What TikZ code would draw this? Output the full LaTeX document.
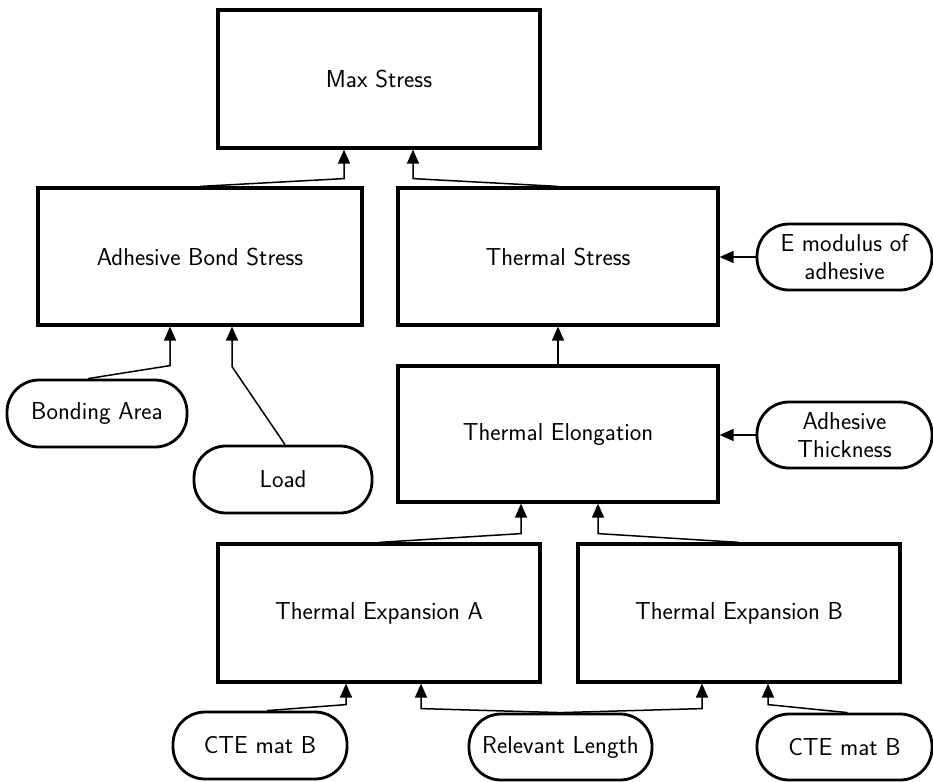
\documentclass[tikz,border=0pt]{standalone}
\usepackage{fontspec}
\usetikzlibrary{arrows.meta,calc}
\begin{document}
\begin{tikzpicture}[x=1pt,y=-1pt,
  lbl/.style={font=\sffamily\fontsize{24.5}{28}\selectfont, align=center, inner sep=0pt},
  box/.style={lbl, draw, line width=3.2pt},
  term/.style={lbl, draw, line width=2.8pt, rounded corners=32pt, minimum width=175pt, minimum height=66pt},
  conn/.style={line width=1.5pt, -{Triangle[length=14pt,width=12pt]}}]
\useasboundingbox (0,0) rectangle (933,781);
% boxes
\node[box, minimum width=322pt, minimum height=138pt] (ms)  at (379,79)    {Max Stress};
\node[box, minimum width=324pt, minimum height=137pt] (abs) at (200,256.5) {Adhesive Bond Stress};
\node[box, minimum width=320pt, minimum height=137pt] (ts)  at (558,256.5) {Thermal Stress};
\node[box, minimum width=320pt, minimum height=136pt] (te)  at (558,434)   {Thermal Elongation};
\node[box, minimum width=322pt, minimum height=138pt] (tea) at (379,613)   {Thermal Expansion A};
\node[box, minimum width=322pt, minimum height=138pt] (teb) at (739,613)   {Thermal Expansion B};
% terminals
\node[term] (em) at (844.5,257) {E modulus of\\adhesive};
\node[term] (at) at (844.5,435) {Adhesive\\Thickness};
\node[term, minimum width=180pt, minimum height=67pt] (ba) at (97,413.5) {Bonding Area};
\node[term, minimum width=178pt, minimum height=67pt] (ld) at (283,479.5) {Load};
\node[term, minimum width=174pt, minimum height=67pt] (c1) at (260,745.5) {CTE mat B};
\node[term, minimum width=183pt, minimum height=66pt] (rl) at (560.5,747) {Relevant Length};
\node[term] (c2) at (844.5,747) {CTE mat B};
% connectors to Max Stress
\draw[conn] (abs.north) -- ($(ms.south)+(-35,29)$) -- ($(ms.south)+(-35,0)$);
\draw[conn] (ts.north) -- ($(ms.south)+(34,29)$) -- ($(ms.south)+(34,0)$);
% to Adhesive Bond Stress
\draw[conn] ($(ba.north)+(-9,0)$) -- ($(abs.south)+(-30,39)$) -- ($(abs.south)+(-30,0)$);
\draw[conn] ($(ld.north)+(2,0)$) -- ($(abs.south)+(32,40)$) -- ($(abs.south)+(32,0)$);
% to Thermal Stress
\draw[conn] (te.north) -- (ts.south);
\draw[conn] (em.west) -- (em.west -| ts.east);
% to Thermal Elongation
\draw[conn] (at.west) -- (at.west -| te.east);
\draw[conn] (tea.north) -- ($(te.south)+(-37,30)$) -- ($(te.south)+(-37,0)$);
\draw[conn] (teb.north) -- ($(te.south)+(40,30)$) -- ($(te.south)+(40,0)$);
% to Thermal Expansion A / B
\draw[conn] ($(c1.north)+(7,0)$) -- ($(tea.south)+(-33,21)$) -- ($(tea.south)+(-33,0)$);
\draw[conn] (rl.north) -- ($(tea.south)+(42,25)$) -- ($(tea.south)+(42,0)$);
\draw[conn] (rl.north) -- ($(teb.south)+(-37,25)$) -- ($(teb.south)+(-37,0)$);
\draw[conn] ($(c2.north)+(3,0)$) -- ($(teb.south)+(29,21)$) -- ($(teb.south)+(29,0)$);
\end{tikzpicture}
\end{document}
